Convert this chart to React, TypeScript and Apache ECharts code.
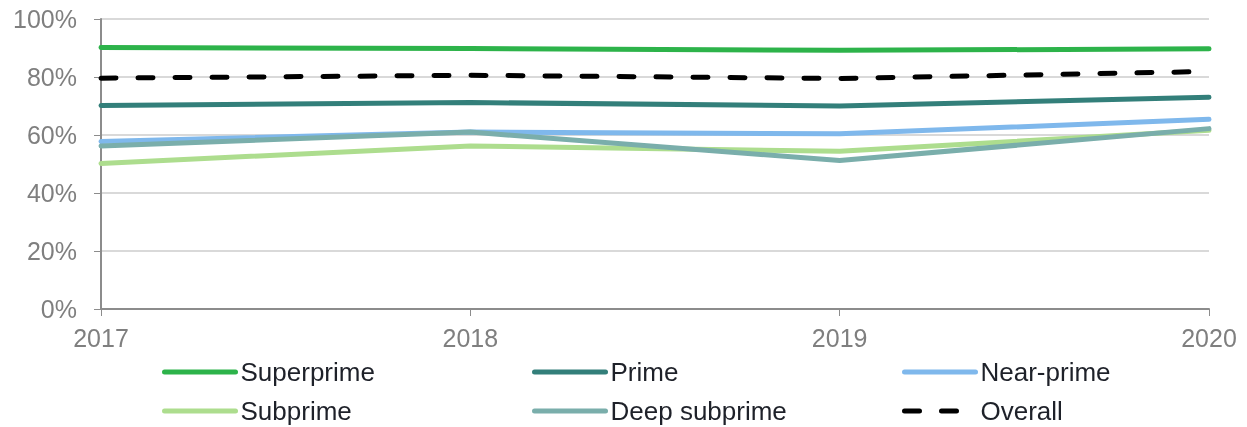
import React, { useEffect, useRef } from "react";
import * as echarts from "echarts";

const years = ["2017", "2018", "2019", "2020"];
const superprime = [90.2, 89.8, 89.2, 89.7];
const prime = [70.2, 71.2, 70.0, 73.0];
const nearPrime = [57.8, 61.0, 60.4, 65.4];
const subprime = [50.2, 56.2, 54.4, 61.6];
const deepSubprime = [56.2, 61.0, 51.2, 62.2];
const overall = [79.6, 80.6, 79.5, 81.9];

const seriesDefs = [
  { name: "Superprime", data: superprime, color: "#2db34a", dashed: false },
  { name: "Prime", data: prime, color: "#337f7a", dashed: false },
  { name: "Near-prime", data: nearPrime, color: "#7fb8ec", dashed: false },
  { name: "Subprime", data: subprime, color: "#addd8e", dashed: false },
  { name: "Deep subprime", data: deepSubprime, color: "#7aaeab", dashed: false },
  { name: "Overall", data: overall, color: "#000000", dashed: true },
];

const legendPos = [
  { left: 162, top: 359 },
  { left: 532, top: 359 },
  { left: 902, top: 359 },
  { left: 162, top: 398 },
  { left: 532, top: 398 },
  { left: 902, top: 398 },
];

export default function App() {
  const ref = useRef<HTMLDivElement>(null);
  useEffect(() => {
    if (!ref.current) return;
    const chart = echarts.init(ref.current, null, { renderer: "svg" });
    const font = "'Liberation Sans', Arial, sans-serif";
    chart.setOption({
      animation: false,
      textStyle: { fontFamily: font },
      grid: { left: 101, right: 38, top: 19, bottom: 118, containLabel: false },
      legend: seriesDefs.map((s, i) => ({
        data: [s.name],
        left: legendPos[i].left,
        top: legendPos[i].top,
        padding: 0,
        itemWidth: 71,
        itemHeight: 26,
        selectedMode: false,
        itemStyle: { color: "rgba(0,0,0,0)", borderColor: "rgba(0,0,0,0)", borderWidth: 0, opacity: 0 },
        lineStyle: { width: 5, cap: "round" },
        textStyle: { fontSize: 26, color: "#1e2129", fontFamily: font, padding: 0 },
      })),
      xAxis: {
        type: "category",
        data: years,
        boundaryGap: false,
        axisLine: { lineStyle: { color: "#8c8c8c", width: 2 } },
        axisTick: { show: true, length: 7, lineStyle: { color: "#8c8c8c", width: 1 } },
        axisLabel: { fontSize: 25, color: "#7f7f7f", margin: 16, fontFamily: font },
        splitLine: { show: false },
      },
      yAxis: {
        type: "value",
        min: 0,
        max: 100,
        interval: 20,
        axisLine: { show: true, lineStyle: { color: "#8c8c8c", width: 2 } },
        axisTick: { show: true, inside: false, length: 7, lineStyle: { color: "#8c8c8c", width: 1 } },
        axisLabel: { fontSize: 25, color: "#7f7f7f", margin: 24, formatter: "{value}%", fontFamily: font },
        splitLine: { show: true, lineStyle: { color: "#d9d9d9", width: 2 } },
      },
      series: seriesDefs.map((s) => ({
        name: s.name,
        type: "line",
        data: s.data,
        symbol: "none",
        showSymbol: false,
        color: s.color,
        lineStyle: {
          color: s.color,
          width: 5,
          type: s.dashed ? [15, 22] : "solid",
          cap: "round",
        },
        itemStyle: { color: s.color },
        z: s.dashed ? 10 : 2,
      })),
    });
    return () => chart.dispose();
  }, []);
  return (
    <div
      ref={ref}
      style={{ position: "fixed", left: 0, top: 0, width: 1247, height: 427, overflow: "visible" }}
    />
  );
}
